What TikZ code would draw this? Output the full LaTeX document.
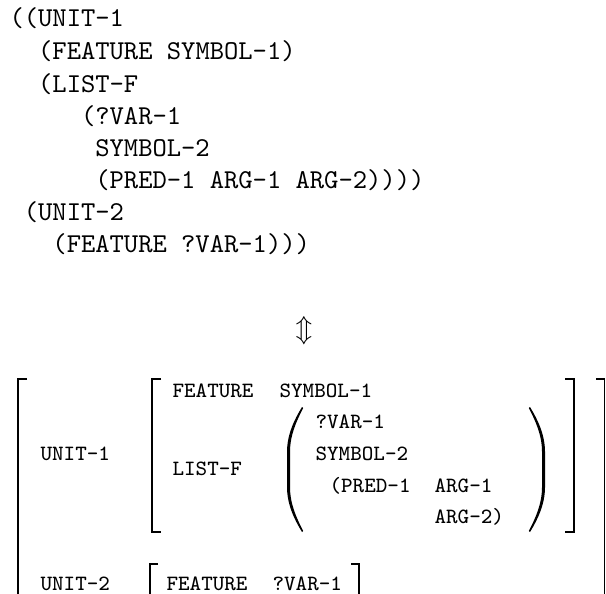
\documentclass[tikz,border=0pt]{standalone}
\begin{document}
\begin{tikzpicture}[x=0.367pt,y=-0.367pt,
  top/.style={anchor=base west,inner sep=0pt,font=\fontsize{10}{12}\selectfont\ttfamily},
  avm/.style={anchor=base west,inner sep=0pt,font=\fontsize{8}{10}\selectfont\ttfamily},
  br/.style={line width=0.45pt,line join=miter}]
\useasboundingbox (0,0) rectangle (606,593);
% linear form
\node[top] (t1) at (9,27)    {((UNIT-1};
\node[top] (t2) at (37.6,59) {(FEATURE SYMBOL-1)};
\node[top] (t3) at (37.6,92) {(LIST-F};
\node[top] (t4) at (80.5,124) {(?VAR-1};
\node[top] (t5) at (94.8,156) {SYMBOL-2};
\node[top] (t6) at (94.8,188) {(PRED-1 ARG-1 ARG-2))))};
\node[top] (t7) at (23.3,220) {(UNIT-2};
\node[top] (t8) at (51.9,252) {(FEATURE ?VAR-1)))};
% equivalence arrow
\node[inner sep=0pt,font=\fontsize{10}{12}\selectfont] (eq) at (304,331) {$\Updownarrow$};
% AVM
\node[avm] (u1) at (40,460) {UNIT-1};
\node[avm] (u2) at (40,590) {UNIT-2};
\node[avm] (f1) at (172,397) {FEATURE};
\node[avm] (s1) at (279,397) {SYMBOL-1};
\node[avm] (lf) at (172,475) {LIST-F};
\node[avm] (v1) at (315,428) {?VAR-1};
\node[avm] (s2) at (315,460) {SYMBOL-2};
\node[avm] (p1) at (329,492) {(PRED-1};
\node[avm] (a1) at (434,492) {ARG-1};
\node[avm] (a2) at (434,523) {ARG-2)};
\node[avm] (f2) at (166,590) {FEATURE};
\node[avm] (v2) at (272,590) {?VAR-1};
% brackets
\draw[br] (27,379) -- (18,379) -- (18,640);
\draw[br] (161,379) -- (152,379) -- (152,532) -- (161,532);
\draw[br] (565,379) -- (574,379) -- (574,532) -- (565,532);
\draw[br] (596,379) -- (604.5,379) -- (604.5,640);
\draw[br] (158,564) -- (150,564) -- (150,606) -- (158,606);
\draw[br] (351,564) -- (359,564) -- (359,606) -- (351,606);
% parentheses
\fill (302,407) .. controls (294,420) and (287,435) .. (287,452) -- (287,487)
  .. controls (287,504) and (294,519) .. (302,532) -- (303.2,531)
  .. controls (296.5,518) and (290,504) .. (290,487) -- (290,452)
  .. controls (290,435) and (296.5,421) .. (303.2,408) -- cycle;
\fill (530,407) .. controls (538,420) and (545,435) .. (545,452) -- (545,487)
  .. controls (545,504) and (538,519) .. (530,532) -- (528.8,531)
  .. controls (535.5,518) and (542,504) .. (542,487) -- (542,452)
  .. controls (542,435) and (535.5,421) .. (528.8,408) -- cycle;
\end{tikzpicture}
\end{document}
